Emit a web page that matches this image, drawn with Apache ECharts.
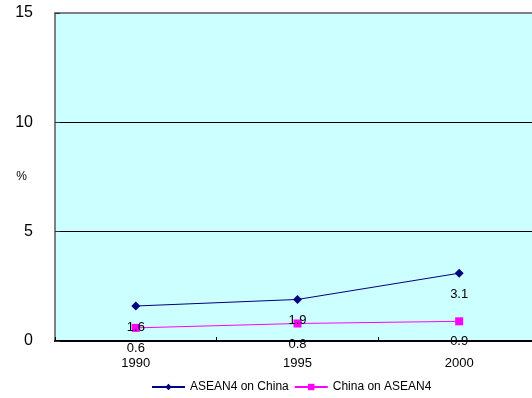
<!DOCTYPE html>
<html>
<head>
<meta charset="utf-8">
<script src="https://cdn.jsdelivr.net/npm/echarts@6/dist/echarts.min.js"></script>
<style>
  html, body { margin: 0; padding: 0; background: #fff; }
  #chart { width: 532px; height: 398px; }
</style>
</head>
<body>
<div id="chart"></div>
<script>
// Bilateral import dependence, per cent
const years = ['1990', '1995', '2000'];
const aseanOnChina = [1.6, 1.9, 3.1];
const chinaOnAsean = [0.6, 0.8, 0.9];
const seriesNames = ['ASEAN4 on China', 'China on ASEAN4'];

const font = '"Liberation Sans", Arial, sans-serif';

const chart = echarts.init(document.getElementById('chart'), null, { renderer: 'canvas' });

const labelStyle = {
  show: true,
  position: 'bottom',
  distance: 10,
  color: '#000',
  fontFamily: font,
  fontSize: 13
};

chart.setOption({
  animation: false,
  textStyle: { fontFamily: font },
  grid: {
    left: 55, right: -8, top: 13, bottom: 57,
    containLabel: false,
    outerBoundsMode: 'none',
    show: true,
    backgroundColor: '#CCFFFF',
    borderColor: '#808080',
    borderWidth: 2
  },
  legend: {
    data: seriesNames,
    left: 146,
    top: 376,
    itemWidth: 33,
    itemHeight: 8,
    itemGap: 5,
    textStyle: { fontFamily: font, fontSize: 12, color: '#000' }
  },
  xAxis: {
    type: 'category',
    data: years,
    boundaryGap: true,
    axisLine: { lineStyle: { color: '#000', width: 2 } },
    axisTick: { show: true, inside: true, length: 4, lineStyle: { color: '#000' } },
    axisLabel: { color: '#000', fontSize: 13, margin: 16, fontFamily: font },
    splitLine: { show: false }
  },
  yAxis: {
    type: 'value',
    min: 0, max: 15, interval: 5,
    name: '%',
    nameLocation: 'middle',
    nameRotate: 0,
    nameGap: 28,
    nameMoveOverlap: false,
    nameTextStyle: { color: '#000', fontSize: 12, fontFamily: font },
    axisLine: { show: true, lineStyle: { color: '#808080', width: 2 } },
    axisTick: { show: true, inside: true, length: 5, lineStyle: { color: '#333' } },
    axisLabel: { color: '#000', fontSize: 16, margin: 22, fontFamily: font },
    splitLine: { show: true, showMaxLine: false, lineStyle: { color: '#000', width: 1 } }
  },
  series: [
    {
      name: seriesNames[0],
      type: 'line',
      data: aseanOnChina,
      symbol: 'diamond',
      symbolSize: 9,
      itemStyle: { color: '#000080' },
      lineStyle: { color: '#000080', width: 1 },
      label: labelStyle,
      z: 3
    },
    {
      name: seriesNames[1],
      type: 'line',
      data: chinaOnAsean,
      symbol: 'rect',
      symbolSize: 8,
      itemStyle: { color: '#FF00FF' },
      lineStyle: { color: '#FF00FF', width: 1 },
      label: labelStyle,
      z: 2
    }
  ]
});
</script>
</body>
</html>
